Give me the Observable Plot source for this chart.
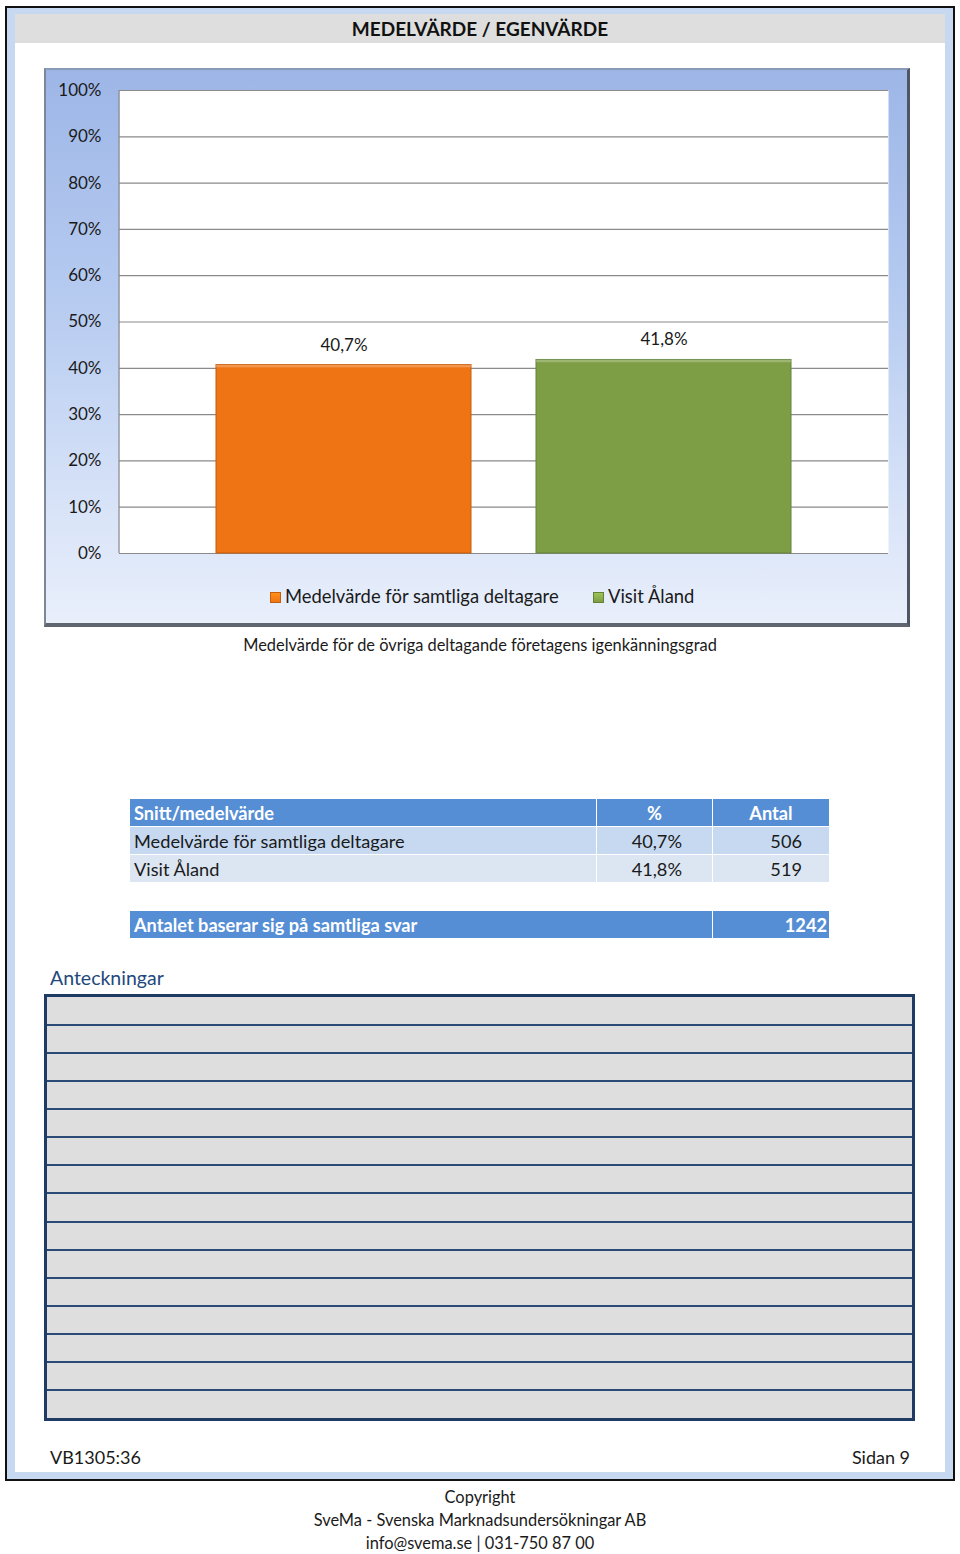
<!DOCTYPE html>
<html>
<head>
<meta charset="utf-8">
<script src="https://cdn.jsdelivr.net/npm/d3@7"></script>
<script src="https://cdn.jsdelivr.net/npm/@observablehq/plot@0.6"></script>
<style>
  html, body { margin:0; padding:0; background:#fff; }
  body { width:960px; height:1554px; position:relative; font-family: Lato, "Open Sans", sans-serif; color:#1a1a1a; overflow:hidden; }
  .abs { position:absolute; }
  #outer { left:5px; top:6px; width:946px; height:1471px; border:2px solid #111; background:#c6d9f1; }
  #inner { left:15px; top:14px; width:930px; height:1458px; background:#fff; }
  #titlebar { left:15px; top:14px; width:930px; height:29px; background:#dedede; font-weight:700; font-size:19px; text-align:center; line-height:30px; color:#111; }
  #chartframe { left:44px; top:68px; width:866px; height:559px; box-sizing:border-box;
    background:linear-gradient(to bottom, #9db6e7 0%, #b9cdf1 45%, #d9e4f8 80%, #e9effb 100%);
    border-top:2px solid #8a9bb8; border-left:2px solid #7d8796; border-right:3px solid #4e5563; border-bottom:4px solid #5f6670; }
  #chart { left:44px; top:68px; }
  .legend { font-size:18.4px; top:584px; line-height:24px; white-space:nowrap; }
  .sw { display:inline-block; width:11px; height:11px; vertical-align:0px; margin-right:4px; }
  #caption { left:0; width:960px; top:635px; text-align:center; font-size:16.4px; }
  table.t { position:absolute; border-collapse:collapse; font-size:18.2px; table-layout:fixed; }
  table.t td { padding:0 4px; height:27px; border:1px solid #fff; line-height:26px; overflow:hidden; white-space:nowrap; }
  .hd td { background:#558ed5; color:#fff; font-weight:700; }
  .r1 td { background:#c6d9f1; }
  .r2 td { background:#dce6f2; }
  #anteck { left:50px; top:966px; font-size:19.5px; color:#1f497d; }
  #notes { left:44px; top:994px; width:871px; height:427px; box-sizing:border-box; border:3px solid #1f3b64; background:#dedede; }
  .nl { position:absolute; left:0; width:100%; height:2px; background:#2a4a78; }
  #foot1 { left:50px; top:1446px; font-size:18px; }
  #foot2 { left:760px; width:150px; top:1446px; font-size:18px; text-align:right; }
  .cp { left:0; width:960px; text-align:center; font-size:16.4px; }
</style>
</head>
<body>
<script>
// ---- data ----
const series = ["Medelvärde för samtliga deltagare", "Visit Åland"];
const values = [0.407, 0.418];
const counts = [506, 519];
const colors = ["#ef7514", "#7e9e45"];
const yTicks = [0, 0.1, 0.2, 0.3, 0.4, 0.5, 0.6, 0.7, 0.8, 0.9, 1.0];
const total = 1242;
const pageTitle = "MEDELVÄRDE / EGENVÄRDE";
const captionText = "Medelvärde för de övriga deltagande företagens igenkänningsgrad";
const tableHeader = ["Snitt/medelvärde", "%", "Antal"];
const totalLabel = "Antalet baserar sig på samtliga svar";
const notesLabel = "Anteckningar";
const noteRows = 15;
const footLeft = "VB1305:36";
const footRight = "Sidan 9";
const copyright = ["Copyright", "SveMa - Svenska Marknadsundersökningar AB", "info@svema.se | 031-750 87 00"];

const sv = d3.formatLocale({decimal: ",", thousands: " ", grouping: [3], currency: ["", " kr"]});
const pct1 = sv.format(".1%");
const pct0 = sv.format(".0%");

const data = series.map((s, i) => ({series: s, value: values[i]}));

function el(tag, cls, id, parent = document.body) {
  const e = document.createElement(tag);
  if (cls) e.className = cls;
  if (id) e.id = id;
  parent.appendChild(e);
  return e;
}

el("div", "abs", "outer");
el("div", "abs", "inner");
el("div", "abs", "titlebar").textContent = pageTitle;
el("div", "abs", "chartframe");

const chart = Plot.plot({
  width: 866,
  height: 559,
  marginLeft: 75,
  marginRight: 22,
  marginTop: 22,
  marginBottom: 74,
  style: {background: "transparent", fontFamily: "Lato, 'Open Sans', sans-serif", fontSize: "17px", color: "#1a1a1a", overflow: "visible"},
  x: {domain: series, paddingInner: 0.203, paddingOuter: 0.303, axis: null},
  y: {domain: [0, 1], ticks: yTicks, tickFormat: pct0, tickSize: 0, tickPadding: 18, label: null},
  color: {domain: series, range: colors},
  marks: [
    Plot.frame({fill: "#fff", stroke: null}),
    Plot.ruleY(yTicks, {stroke: "#8a8a8a", strokeWidth: 1.2}),
    Plot.axisY({ticks: yTicks, tickFormat: pct0, tickSize: 0, tickPadding: 18, fontSize: 17, label: null}),
    Plot.barY(data, {x: "series", y: "value", fill: "series", stroke: d => d.series === series[0] ? "#c65a0a" : "#62803a", strokeWidth: 1}),
    Plot.barY(data, {x: "series", y1: "value", y2: d => d.value - 0.006, fill: "#fff", fillOpacity: 0.25}),
    Plot.text(data, {x: "series", y: "value", text: d => pct1(d.value), dy: -20, fontSize: 17, fill: "#1a1a1a"})
  ]
});
chart.classList.add("abs");
chart.id = "chart";
document.body.appendChild(chart);
// left plot border
{
  const svg = d3.select(chart);
  svg.append("line").attr("x1", 75).attr("x2", 75).attr("y1", 22).attr("y2", 559 - 74)
    .attr("stroke", "#8a8a8a").attr("stroke-width", 1.2);
}

// legend
const legendX = [270, 593];
series.forEach((s, i) => {
  const d = el("div", "abs legend");
  d.style.left = legendX[i] + "px";
  const sw = el("span", "sw", null, d);
  sw.style.background = `linear-gradient(to bottom, ${d3.color(colors[i]).brighter(0.6)}, ${colors[i]})`;
  sw.style.border = `1px solid ${d3.color(colors[i]).darker(0.6)}`;
  sw.style.boxSizing = "border-box";
  d.appendChild(document.createTextNode(s));
});

el("div", "abs", "caption").textContent = captionText;

// table 1
const cw = [467, 116, 117];
const t1 = el("table", "t");
t1.style.left = "129px"; t1.style.top = "798px"; t1.style.width = d3.sum(cw) + "px";
const cg = el("colgroup", null, null, t1);
cw.forEach(w => { const c = el("col", null, null, cg); c.style.width = w + "px"; });
const hr = el("tr", "hd", null, t1);
tableHeader.forEach((h, i) => {
  const td = el("td", null, null, hr);
  td.textContent = h;
  td.style.textAlign = i === 0 ? "left" : "center";
});
series.forEach((s, i) => {
  const tr = el("tr", i === 0 ? "r1" : "r2", null, t1);
  const a = el("td", null, null, tr); a.textContent = s;
  const b = el("td", null, null, tr); b.textContent = pct1(values[i]); b.style.textAlign = "right"; b.style.paddingRight = "30px";
  const c = el("td", null, null, tr); c.textContent = counts[i]; c.style.textAlign = "right"; c.style.paddingRight = "27px";
});

// table 2
const t2 = el("table", "t");
t2.style.left = "129px"; t2.style.top = "910px"; t2.style.width = d3.sum(cw) + "px";
const cg2 = el("colgroup", null, null, t2);
[cw[0] + cw[1], cw[2]].forEach(w => { const c = el("col", null, null, cg2); c.style.width = w + "px"; });
const tr2 = el("tr", "hd", null, t2);
const a2 = el("td", null, null, tr2); a2.textContent = totalLabel;
const b2 = el("td", null, null, tr2); b2.textContent = total; b2.style.textAlign = "right"; b2.style.paddingRight = "2px";

// notes
el("div", "abs", "anteck").textContent = notesLabel;
const notes = el("div", "abs", "notes");
const rowH = (427 - 6) / noteRows;
for (let i = 1; i < noteRows; i++) {
  const l = el("div", "nl", null, notes);
  l.style.top = (i * rowH - 1) + "px";
}

el("div", "abs", "foot1").textContent = footLeft;
el("div", "abs", "foot2").textContent = footRight;
copyright.forEach((c, i) => {
  const d = el("div", "abs cp");
  d.style.top = (1487 + i * 23) + "px";
  d.textContent = c;
});
</script>
</body>
</html>
